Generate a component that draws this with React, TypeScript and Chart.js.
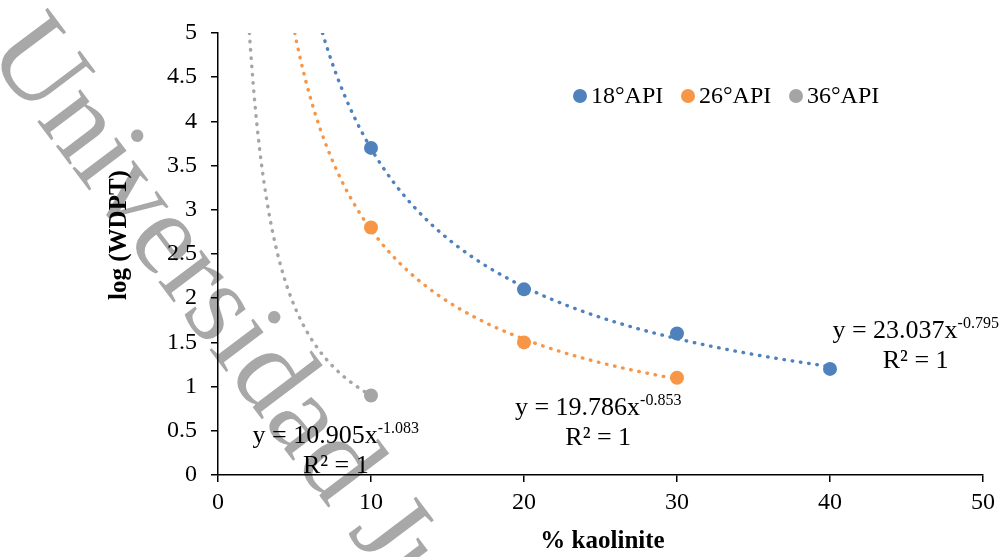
import React, { useEffect, useRef } from "react";
import { Chart, registerables } from "chart.js";

Chart.register(...registerables);

// ---- data ----
const seriesNames = ["18°API", "26°API", "36°API"];
const x18 = [10, 20, 30, 40];
const y18 = [3.7, 2.1, 1.6, 1.2];
const x26 = [10, 20, 30];
const y26 = [2.8, 1.5, 1.1];
const x36 = [10];
const y36 = [0.9];
const seriesColors = ["#4F81BD", "#F79646", "#A5A5A5"];

// power trendlines shown in the chart: y = a * x^b
const trendA = [23.037, 19.786, 10.905];
const trendB = [-0.795, -0.853, -1.083];
const trendALabel = ["23.037", "19.786", "10.905"];
const trendBLabel = ["-0.795", "-0.853", "-1.083"];
const r2Label = ["R² = 1", "R² = 1", "R² = 1"];
// label anchor (data coordinates): centre x, baseline y of first line
const labelAnchorX = [45.6, 24.85, 7.7];
const labelAnchorY = [1.55, 0.68, 0.36];

const xTicks = [0, 10, 20, 30, 40, 50];
const yTicks = [0, 0.5, 1, 1.5, 2, 2.5, 3, 3.5, 4, 4.5, 5];
const xTitle = "% kaolinite";
const yTitle = "log (WDPT)";
const watermark = "Universidad Juárez";

const FONT = "'Liberation Serif', 'Times New Roman', serif";

function trendPoints(i: number, xs: number[], yMax: number) {
  const a = trendA[i];
  const b = trendB[i];
  const xStart = Math.pow(yMax / a, 1 / b);
  const xEnd = xs[xs.length - 1];
  const pts: { x: number; y: number }[] = [];
  const n = 200;
  for (let k = 0; k <= n; k++) {
    const x = xStart + ((xEnd - xStart) * k) / n;
    pts.push({ x, y: a * Math.pow(x, b) });
  }
  return pts;
}

const overlayPlugin = {
  id: "overlay",
  beforeDraw(chart: any) {
    const ctx = chart.ctx;
    ctx.save();
    ctx.fillStyle = "#ffffff";
    ctx.fillRect(0, 0, chart.width, chart.height);
    // watermark
    const ang = (53 * Math.PI) / 180;
    ctx.translate(-15, 52);
    ctx.rotate(ang);
    ctx.font = `117px ${FONT}`;
    ctx.fillStyle = "#a8a8a8";
    ctx.textBaseline = "alphabetic";
    ctx.textAlign = "left";
    ctx.fillText(watermark, 0, 0);
    ctx.restore();
  },
  afterDraw(chart: any) {
    const ctx = chart.ctx;
    const xs = chart.scales.x;
    const ys = chart.scales.y;
    const area = chart.chartArea;
    ctx.save();
    ctx.fillStyle = "#000";
    // axis titles
    ctx.font = `bold 25px ${FONT}`;
    ctx.textAlign = "center";
    ctx.textBaseline = "alphabetic";
    ctx.fillText(xTitle, (area.left + area.right) / 2 + 2, 548);
    ctx.save();
    ctx.translate(126, 235);
    ctx.rotate(-Math.PI / 2);
    ctx.fillText(yTitle, 0, 0);
    ctx.restore();

    // legend
    const legY = area.top + 63;
    const legX = [580, 688, 796];
    ctx.textAlign = "left";
    ctx.textBaseline = "middle";
    ctx.font = `24px ${FONT}`;
    for (let i = 0; i < 3; i++) {
      ctx.beginPath();
      ctx.fillStyle = seriesColors[i];
      ctx.arc(legX[i], legY, 7, 0, Math.PI * 2);
      ctx.fill();
      ctx.fillStyle = "#000";
      ctx.fillText(seriesNames[i], legX[i] + 11, legY + 1);
    }

    // trendline equations
    ctx.textBaseline = "alphabetic";
    for (let i = 0; i < 3; i++) {
      const cx = xs.getPixelForValue(labelAnchorX[i]);
      const by = ys.getPixelForValue(labelAnchorY[i]);
      const main = `y = ${trendALabel[i]}x`;
      const sup = trendBLabel[i];
      ctx.font = `26px ${FONT}`;
      const w1 = ctx.measureText(main).width;
      ctx.font = `16px ${FONT}`;
      const w2 = ctx.measureText(sup).width;
      const sx = cx - (w1 + w2) / 2;
      ctx.textAlign = "left";
      ctx.font = `26px ${FONT}`;
      ctx.fillText(main, sx, by);
      ctx.font = `16px ${FONT}`;
      ctx.fillText(sup, sx + w1, by - 10);
      ctx.font = `26px ${FONT}`;
      ctx.textAlign = "center";
      ctx.fillText(r2Label[i], cx, by + 30);
    }
    ctx.restore();
  },
};

export default function App() {
  const ref = useRef<HTMLCanvasElement | null>(null);
  useEffect(() => {
    if (!ref.current) return;
    const xsArr = [x18, x26, x36];
    const ysArr = [y18, y26, y36];
    const trendSets = xsArr.map((xs, i) => ({
      label: seriesNames[i] + " trend",
      data: trendPoints(i, xs, 5),
      showLine: true,
      borderColor: seriesColors[i],
      borderWidth: 3.4,
      borderDash: [0.5, 7.8],
      borderCapStyle: "round" as const,
      pointRadius: 0,
      fill: false,
      order: 2,
    }));
    const pointSets = xsArr.map((xs, i) => ({
      label: seriesNames[i],
      data: xs.map((x, k) => ({ x, y: ysArr[i][k] })),
      backgroundColor: seriesColors[i],
      borderColor: seriesColors[i],
      pointRadius: 7,
      pointBorderWidth: 0,
      showLine: false,
      order: 1,
    }));
    const chart = new Chart(ref.current, {
      type: "scatter",
      data: { datasets: [...trendSets, ...pointSets] as any },
      options: {
        animation: false,
        responsive: false,
        events: [],
        layout: { padding: { left: 0, right: 23, top: 33, bottom: 0 } },
        plugins: { legend: { display: false }, tooltip: { enabled: false } },
        scales: {
          x: {
            type: "linear",
            min: 0,
            max: 50,
            afterFit: (s: any) => {
              s.height = 82;
            },
            afterBuildTicks: (s: any) => {
              s.ticks = xTicks.map((v) => ({ value: v }));
            },
            border: { display: true, color: "#000", width: 1.5 },
            grid: {
              drawOnChartArea: false,
              drawTicks: true,
              tickLength: 7,
              color: "#000",
              lineWidth: 1.5,
            },
            ticks: {
              color: "#000",
              padding: 6,
              maxRotation: 0,
              font: { family: FONT, size: 24 },
              callback: (v: any) => String(v),
            },
          },
          y: {
            type: "linear",
            min: 0,
            max: 5,
            afterFit: (s: any) => {
              s.width = 218;
            },
            afterBuildTicks: (s: any) => {
              s.ticks = yTicks.map((v) => ({ value: v }));
            },
            border: { display: true, color: "#000", width: 1.5 },
            grid: {
              drawOnChartArea: false,
              drawTicks: true,
              tickLength: 7,
              color: "#000",
              lineWidth: 1.5,
            },
            ticks: {
              color: "#000",
              padding: 14,
              font: { family: FONT, size: 24 },
              callback: (v: any) => String(v),
            },
          },
        },
      },
      plugins: [overlayPlugin],
    });
    return () => chart.destroy();
  }, []);
  return (
    <div style={{ position: "fixed", left: 0, top: 0, width: 1006, height: 557, background: "#fff" }}>
      <canvas ref={ref} width={1006} height={557} style={{ display: "block" }} />
    </div>
  );
}
